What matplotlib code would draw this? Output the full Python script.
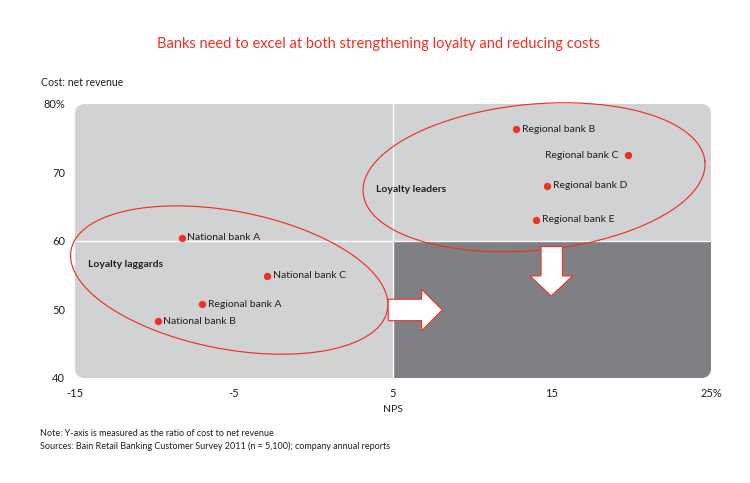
import numpy as np
import matplotlib
matplotlib.use("Agg")
import matplotlib.pyplot as plt
from matplotlib.patches import FancyBboxPatch, Rectangle, Polygon

# ---- data ----
banks = ["National bank A", "National bank C", "Regional bank A", "National bank B",
         "Regional bank B", "Regional bank C", "Regional bank D", "Regional bank E"]
nps = [-8.3, -2.9, -7.0, -9.8, 12.75, 19.8, 14.7, 14.0]
cost = [60.5, 54.9, 50.8, 48.3, 76.35, 72.5, 68.1, 63.1]
label_side = ["r", "r", "r", "r", "r", "l", "r", "r"]

xticks = [-15, -5, 5, 15, 25]
xticklabels = ["-15", "-5", "5", "15", "25%"]
yticks = [40, 50, 60, 70, 80]
yticklabels = ["40", "50", "60", "70", "80%"]

RED = "#ee3124"
LIGHT = "#d1d2d4"
DARK = "#7f8083"
TXT = "#231f20"
FONT = ["Lato", "DejaVu Sans"]
plt.rcParams["font.family"] = FONT

fig = plt.figure(figsize=(7.5, 4.83), dpi=100)
W, H = 750, 483
x0, x1, yt, yb = 75, 711, 104, 378
ax = fig.add_axes([x0 / W, 1 - yb / H, (x1 - x0) / W, (yb - yt) / H])
ax.set_xlim(-15, 25)
ax.set_ylim(40, 80)
for s in ax.spines.values():
    s.set_visible(False)
ax.set_facecolor("none")

# background rounded panel
ax_w_px, ax_h_px = (x1 - x0), (yb - yt)
r = 10 / ax_w_px
bg = FancyBboxPatch((0, 0), 1, 1, boxstyle=f"round,pad=0,rounding_size={r}",
                    mutation_aspect=ax_w_px / ax_h_px, transform=ax.transAxes,
                    facecolor=LIGHT, edgecolor="none", zorder=0)
ax.add_patch(bg)
dark = Rectangle((5, 40), 20, 20, facecolor=DARK, edgecolor="none", zorder=0.5)
ax.add_patch(dark)
dark.set_clip_path(bg)
ax.plot([5, 5], [40, 80], color="white", lw=1, zorder=1)
ax.plot([-15, 25], [60, 60], color="white", lw=1, zorder=1)

# scales (px per data unit)
sx = ax_w_px / 40.0
sy = ax_h_px / 40.0

def ellipse(cx, cy, a, b, ang):
    t = np.linspace(0, 2 * np.pi, 300)
    th = np.deg2rad(ang)
    dx = a * np.cos(t) * np.cos(th) - b * np.sin(t) * np.sin(th)
    dy = a * np.cos(t) * np.sin(th) + b * np.sin(t) * np.cos(th)
    ax.plot(cx + dx / sx, cy + dy / sy, color=RED, lw=0.85, zorder=3, clip_on=False)

ellipse(-5.3, 54.3, 161, 69, -10.8)
ellipse(13.87, 69.3, 171.6, 73.1, 5.35)

# arrows (white with red outline)
right_arrow = [(4.7, 51.5), (6.8, 51.5), (6.8, 52.95), (8.1, 49.93),
               (6.8, 46.9), (6.8, 48.37), (4.7, 48.37)]
ax.add_patch(Polygon(right_arrow, closed=True, facecolor="white", edgecolor=RED,
                     lw=0.8, zorder=4))
down_arrow = [(14.31, 59.2), (15.65, 59.2), (15.65, 54.9), (16.3, 54.9),
              (14.95, 51.97), (13.62, 54.9), (14.31, 54.9)]
ax.add_patch(Polygon(down_arrow, closed=True, facecolor="white", edgecolor=RED,
                     lw=0.8, zorder=4))

# points and labels
ax.scatter(nps, cost, s=28, color=RED, zorder=5, linewidths=0)
for n, x, y, side in zip(banks, nps, cost, label_side):
    if side == "r":
        ax.annotate(n, (x, y), xytext=(4, 0), textcoords="offset points",
                    ha="left", va="center", fontsize=7.5, color=TXT, zorder=6)
    else:
        ax.annotate(n, (x, y), xytext=(-7, 0), textcoords="offset points",
                    ha="right", va="center", fontsize=7.5, color=TXT, zorder=6)

ax.text(-14.2, 56.5, "Loyalty laggards", fontsize=7.5, fontweight="bold",
        color=TXT, va="center", ha="left", zorder=6)
ax.text(3.9, 67.45, "Loyalty leaders", fontsize=7.5, fontweight="bold",
        color=TXT, va="center", ha="left", zorder=6)

# ticks
ax.set_xticks(xticks)
ax.set_xticklabels(xticklabels)
ax.set_yticks(yticks)
ax.set_yticklabels(yticklabels)
ax.tick_params(axis="both", length=0, labelsize=8, colors=TXT)
ax.tick_params(axis="x", pad=7)
ax.tick_params(axis="y", pad=7)

# texts
fig.text(379 / W, 1 - 44 / H, "Banks need to excel at both strengthening loyalty and reducing costs",
         ha="center", va="center", fontsize=10.5, color=RED)
fig.text(41 / W, 1 - 82 / H, "Cost: net revenue", ha="left", va="center",
         fontsize=7.6, color=TXT)
fig.text(393 / W, 1 - 410 / H, "NPS", ha="center", va="center", fontsize=7.5, color=TXT)
fig.text(40 / W, 1 - 433 / H, "Note: Y-axis is measured as the ratio of cost to net revenue",
         ha="left", va="center", fontsize=6.5, color=TXT)
fig.text(40 / W, 1 - 446 / H,
         "Sources: Bain Retail Banking Customer Survey 2011 (n = 5,100); company annual reports",
         ha="left", va="center", fontsize=6.5, color=TXT)

fig.savefig("out.png", dpi=100, facecolor="white")
